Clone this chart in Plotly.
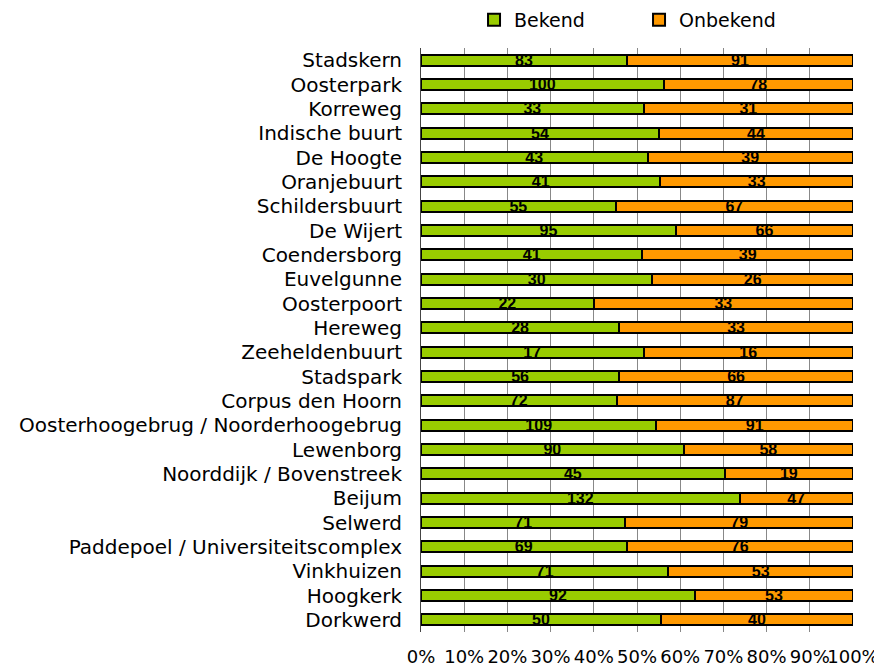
import plotly.graph_objects as go

categories = ["Stadskern", "Oosterpark", "Korreweg", "Indische buurt", "De Hoogte",
              "Oranjebuurt", "Schildersbuurt", "De Wijert", "Coendersborg", "Euvelgunne",
              "Oosterpoort", "Hereweg", "Zeeheldenbuurt", "Stadspark", "Corpus den Hoorn",
              "Oosterhoogebrug / Noorderhoogebrug", "Lewenborg", "Noorddijk / Bovenstreek",
              "Beijum", "Selwerd", "Paddepoel / Universiteitscomplex", "Vinkhuizen",
              "Hoogkerk", "Dorkwerd"]
bekend = [83, 100, 33, 54, 43, 41, 55, 95, 41, 30, 22, 28, 17, 56, 72, 109, 90, 45, 132, 71, 69, 71, 92, 50]
onbekend = [91, 78, 31, 44, 39, 33, 67, 66, 39, 26, 33, 33, 16, 66, 87, 91, 58, 19, 47, 79, 76, 53, 53, 40]
tick_vals = [0, 10, 20, 30, 40, 50, 60, 70, 80, 90, 100]
tick_text = [f"{v}%" for v in tick_vals]

FONT = "DejaVu Sans, sans-serif"
LABEL_FONT = "Liberation Sans, Arial, sans-serif"

# page body has an 8px margin, so the figure is sized to fit the window
W, H = 874, 660

fig = go.Figure()
for name, vals, color in [("Bekend", bekend, "#99cc00"), ("Onbekend", onbekend, "#ff9900")]:
    fig.add_trace(go.Bar(
        name=name, y=categories, x=vals, orientation="h",
        marker=dict(color=color, line=dict(color="black", width=2)),
        text=[str(v) for v in vals], textposition="inside", insidetextanchor="middle",
        textangle=0, constraintext="none",
        textfont=dict(family=LABEL_FONT, size=16, color="black", weight="bold"),
        cliponaxis=False,
    ))

fig.update_layout(
    barmode="stack", barnorm="percent", bargap=0.55,
    width=W, height=H,
    margin=dict(l=413, r=29, t=40, b=36, autoexpand=False),
    plot_bgcolor="white", paper_bgcolor="white",
    font=dict(family=FONT, size=19, color="black"),
    showlegend=True,
    legend=dict(orientation="h", x=0.5047, xanchor="center",
                yref="container", y=1 - 12 / H, yanchor="middle",
                font=dict(size=19), entrywidth=120, entrywidthmode="pixels",
                traceorder="normal", itemwidth=30),
    xaxis=dict(range=[0, 100], tickmode="array", tickvals=tick_vals, ticktext=tick_text,
               showgrid=True, gridcolor="#888888", gridwidth=1,
               zeroline=False, showline=False, automargin=False,
               ticks="outside", ticklen=8, tickcolor="rgba(0,0,0,0)",
               tickangle=0, tickfont=dict(size=18)),
    yaxis=dict(autorange="reversed", showgrid=False, automargin=False,
               tickmode="array", tickvals=categories, ticktext=categories,
               ticks="outside", ticklen=14, tickcolor="rgba(0,0,0,0)",
               tickfont=dict(size=20), showline=True, linecolor="#444444", linewidth=1),
)

fig.write_html("out.html")
